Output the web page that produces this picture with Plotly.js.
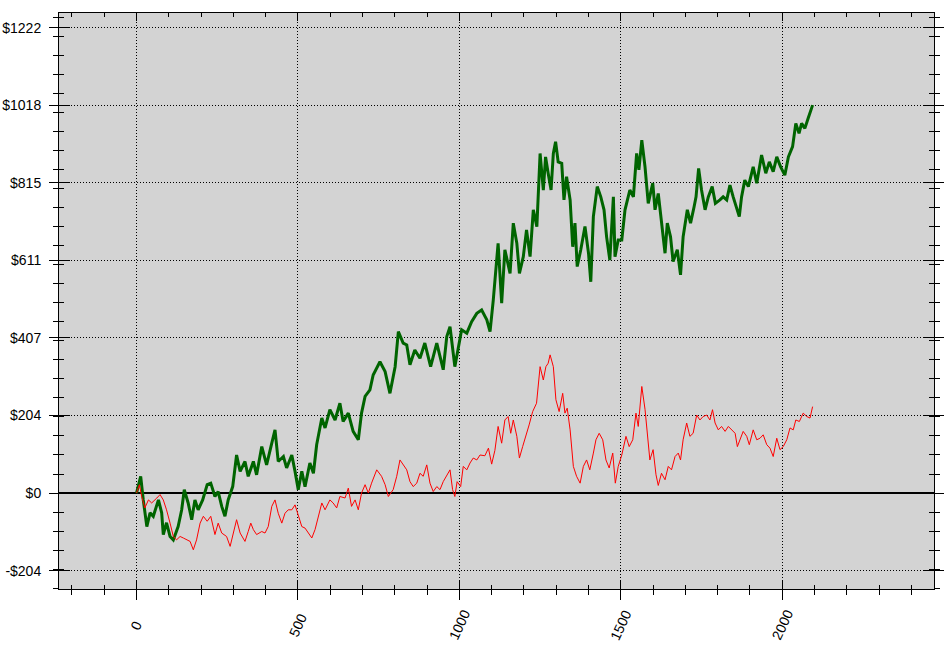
<!DOCTYPE html>
<html>
<head>
<meta charset="utf-8">
<script src="https://cdn.plot.ly/plotly-3.0.1.min.js"></script>
<style>html,body{margin:0;padding:0;background:#fff;}#chart{width:945px;height:645px;}</style>
</head>
<body>
<div id="chart"></div>
<script>
// Green series (x = trade index, y = cumulative $)
var greenX = [0,13,21,32,42,52,68,78,83,93,104,114,129,140,148,160,171,181,191,205,219,230,243,253,264,274,284,298,310,321,336,346,362,372,388,403,419,429,439,455,465,481,491,501,512,522,537,548,558,574,584,599,615,630,640,656,671,687,697,708,723,733,754,770,785,801,811,826,837,847,862,878,893,911,930,950,961,971,986,997,1007,1023,1038,1054,1069,1085,1095,1105,1120,1131,1141,1157,1167,1178,1186,1198,1208,1219,1229,1240,1250,1260,1267,1275,1284,1291,1298,1306,1317,1324,1332,1343,1351,1358,1365,1376,1389,1400,1407,1415,1427,1438,1448,1456,1466,1477,1482,1492,1503,1513,1528,1539,1549,1556,1565,1575,1585,1599,1606,1616,1626,1637,1644,1654,1662,1675,1685,1693,1706,1716,1727,1733,1741,1750,1761,1771,1783,1793,1807,1817,1828,1838,1848,1859,1867,1874,1884,1895,1910,1921,1936,1949,1960,1972,1983,1995,2008,2019,2032,2042,2052,2060,2070,2080,2094];
var greenY = [0,44,-18,-88,-52,-61,-18,-52,-109,-78,-114,-123,-88,-44,9,-26,-70,-18,-44,-18,22,26,-9,4,-35,-61,-18,17,100,57,83,44,83,48,122,74,131,166,83,96,66,100,57,9,57,17,79,52,127,197,171,219,192,236,188,210,162,140,210,254,271,310,345,319,262,332,424,394,389,337,376,354,394,332,394,324,411,437,332,385,429,420,450,472,481,455,424,507,656,499,639,577,709,656,577,621,691,621,744,700,892,796,883,840,796,892,923,870,866,770,831,770,647,709,595,639,700,630,555,726,805,778,744,673,612,778,621,665,665,744,796,778,892,849,927,857,761,814,744,787,709,630,709,673,608,639,573,673,744,709,752,778,853,796,744,778,805,761,770,778,770,809,778,744,726,778,822,805,857,814,888,840,870,844,883,857,835,883,910,971,945,971,958,984,1019];

// Red series
var redX = [0,9,16,26,37,47,63,73,83,93,104,114,124,135,145,155,166,176,186,197,207,219,230,243,253,264,279,290,300,310,321,336,346,354,362,372,388,398,408,419,429,439,450,460,470,481,491,501,512,522,532,543,553,563,574,584,599,609,620,630,646,656,666,677,687,697,708,718,728,744,759,770,780,795,806,816,826,837,847,857,868,878,888,899,909,919,930,940,950,961,971,979,986,993,1004,1012,1023,1033,1043,1054,1064,1079,1090,1100,1110,1120,1131,1141,1151,1159,1167,1178,1186,1196,1206,1216,1227,1239,1250,1260,1268,1275,1281,1291,1299,1309,1320,1327,1334,1343,1353,1363,1374,1384,1394,1404,1415,1423,1433,1444,1454,1464,1475,1483,1492,1503,1516,1526,1537,1547,1554,1565,1575,1585,1590,1600,1609,1616,1626,1637,1647,1657,1668,1678,1685,1693,1704,1714,1724,1735,1745,1755,1766,1776,1784,1792,1802,1812,1823,1833,1843,1854,1861,1869,1879,1890,1898,1910,1921,1931,1941,1952,1962,1972,1983,1993,2003,2014,2024,2034,2042,2053,2065,2076,2086,2094];
var redY = [0,22,-9,-39,-18,-26,-13,-4,-18,-44,-79,-114,-123,-114,-118,-123,-127,-149,-123,-79,-61,-74,-61,-109,-79,-105,-114,-140,-101,-70,-105,-127,-101,-79,-96,-109,-101,-105,-88,-35,-18,-53,-79,-53,-44,-44,-31,-57,-88,-92,-105,-118,-96,-60,-26,-44,-18,-26,-39,-9,-13,13,-35,-18,-44,0,22,0,26,61,44,22,-9,9,44,87,74,61,30,17,26,52,44,74,26,4,17,9,30,48,61,9,-9,30,17,70,61,79,92,87,100,98,118,76,112,175,131,192,201,157,192,149,92,122,149,179,214,236,332,297,332,341,363,332,245,214,262,210,223,166,70,44,26,70,87,61,105,140,157,140,87,66,105,26,70,100,149,122,140,210,175,280,220,135,87,114,48,20,52,35,70,61,96,105,87,140,184,149,157,205,192,201,205,192,219,184,166,175,162,175,166,157,122,140,162,149,127,166,140,144,153,127,118,96,144,114,122,140,171,166,192,188,210,201,197,227];

// Axis ticks
var yTickVals = [-203.67, 0, 203.67, 407.33, 611, 814.67, 1018.33, 1222];
var yTickText = ['-$204', '$0', '$204', '$407', '$611', '$815', '$1018', '$1222'];
var xTickVals = [0, 500, 1000, 1500, 2000];
var xTickText = ['0', '500', '1000', '1500', '2000'];

var FONT = {family: 'Liberation Sans, Arial, sans-serif', size: 14, color: '#000'};
var xRange = [-240, 2470];
var yRange = [-252, 1261];

var traces = [
  {x: greenX, y: greenY, type: 'scatter', mode: 'lines',
   line: {color: '#006400', width: 3}, xaxis: 'x', yaxis: 'y', hoverinfo: 'skip'},
  {x: redX, y: redY, type: 'scatter', mode: 'lines',
   line: {color: '#ff0000', width: 1}, xaxis: 'x2', yaxis: 'y2', hoverinfo: 'skip'}
];

// rotated x tick labels, centred under each tick
var xLabelAnnotations = xTickVals.map(function (v, i) {
  return {x: v, xref: 'x', y: 0, yref: 'paper', yshift: -36,
          text: xTickText[i], showarrow: false, textangle: -65,
          xanchor: 'center', yanchor: 'middle', font: FONT};
});

var layout = {
  width: 945, height: 645,
  margin: {l: 59, r: 11, t: 13, b: 56, pad: 0},
  paper_bgcolor: '#ffffff',
  plot_bgcolor: '#d3d3d3',
  showlegend: false,
  font: FONT,
  annotations: xLabelAnnotations,
  xaxis: {
    range: xRange, tickmode: 'array', tickvals: xTickVals, ticktext: xTickText,
    showticklabels: false,
    ticks: 'outside', ticklen: 10, tickwidth: 1, tickcolor: '#000',
    showline: true, linecolor: '#000', linewidth: 1, mirror: true,
    showgrid: true, gridcolor: '#000', gridwidth: 1, griddash: '1px,2px',
    zeroline: false,
    minor: {tickmode: 'linear', tick0: 0, dtick: 100, ticks: 'outside', ticklen: 5, tickwidth: 1, tickcolor: '#000', showgrid: false}
  },
  yaxis: {
    range: yRange, tickmode: 'array', tickvals: yTickVals, ticktext: yTickText,
    tickfont: FONT, ticklabelstandoff: 5,
    ticks: 'outside', ticklen: 9, tickwidth: 1, tickcolor: '#000',
    showline: true, linecolor: '#000', linewidth: 1, mirror: 'ticks',
    showgrid: true, gridcolor: '#000', gridwidth: 1, griddash: '1px,2px',
    zeroline: true, zerolinecolor: '#000', zerolinewidth: 1.3,
    minor: {tickmode: 'linear', tick0: 0, dtick: 50, ticks: 'outside', ticklen: 5, tickwidth: 1, tickcolor: '#000', showgrid: false}
  },
  xaxis2: {
    range: xRange, overlaying: 'x', anchor: 'y2', side: 'bottom',
    tickmode: 'array', tickvals: xTickVals, showticklabels: false,
    ticks: 'inside', ticklen: 8, tickwidth: 1, tickcolor: '#000',
    showline: false, mirror: 'ticks', showgrid: false, zeroline: false,
    minor: {tickmode: 'linear', tick0: 0, dtick: 100, ticks: 'inside', ticklen: 4, tickwidth: 1, tickcolor: '#000', showgrid: false}
  },
  yaxis2: {
    range: yRange, overlaying: 'y', anchor: 'x2', side: 'left',
    tickmode: 'array', tickvals: yTickVals, showticklabels: false,
    ticks: 'inside', ticklen: 11, tickwidth: 1, tickcolor: '#000',
    showline: false, mirror: 'ticks', showgrid: false, zeroline: false,
    minor: {tickmode: 'linear', tick0: 0, dtick: 50, ticks: 'inside', ticklen: 5, tickwidth: 1, tickcolor: '#000', showgrid: false}
  }
};

Plotly.newPlot('chart', traces, layout, {displayModeBar: false, staticPlot: true});
</script>
</body>
</html>
